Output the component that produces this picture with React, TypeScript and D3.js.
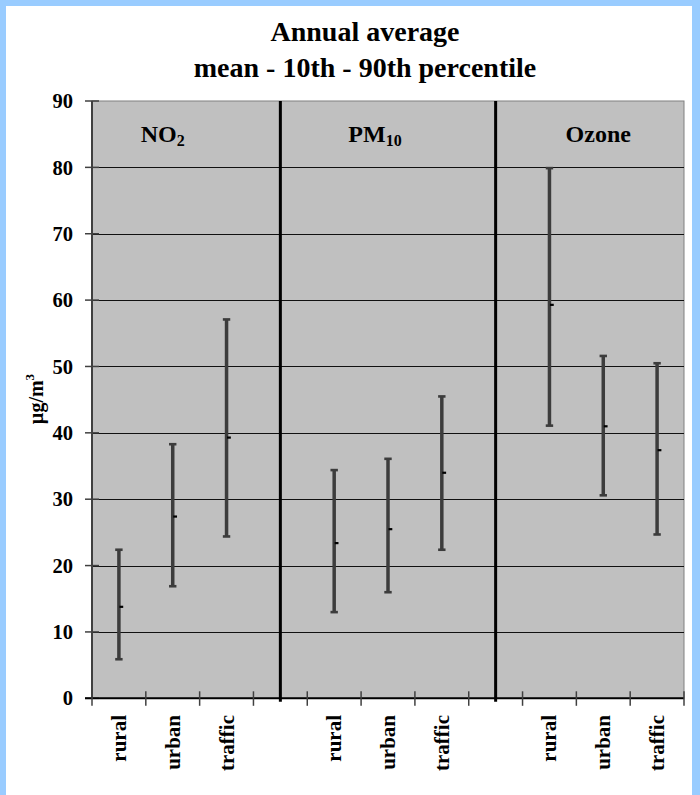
import React from 'react';
import * as d3 from 'd3';

// ---------- data ----------
const categories = ["rural", "urban", "traffic", "", "rural", "urban", "traffic", "", "rural", "urban", "traffic"];
const p10Values = [5.9, 16.9, 24.4, null, 13.0, 16.0, 22.4, null, 41.1, 30.6, 24.7];
const meanValues = [13.8, 27.4, 39.3, null, 23.4, 25.5, 34.0, null, 59.3, 41.0, 37.4];
const p90Values = [22.4, 38.3, 57.1, null, 34.4, 36.1, 45.5, null, 79.9, 51.6, 50.5];
const yTicks = [0, 10, 20, 30, 40, 50, 60, 70, 80, 90];
const panelNames = ["NO", "PM", "Ozone"];
const panelSubs = ["2", "10", ""];
const panelCenterIdx = [1, 5, 9];
const titleLines = ["Annual average", "mean - 10th - 90th percentile"];
const yAxisLabel = "µg/m";
const yAxisLabelSup = "3";

// ---------- layout ----------
const W = 700;
const H = 795;
const plotL = 92;
const plotR = 684;
const plotT = 101;
const plotB = 698.3;
const FONT = "'Liberation Serif', 'Times New Roman', Times, serif";
const panelLabelDx = [-10, -13, -5];

export default function App() {
  const idx = categories.map((_, i) => String(i));
  const x = d3.scaleBand<string>().domain(idx).range([plotL, plotR]).padding(0);
  const y = d3.scaleLinear().domain([0, 90]).range([plotB, plotT]);
  const bw = x.bandwidth();
  const cx = (i: number) => (x(String(i)) as number) + bw / 2;
  const barColor = '#3c3c3c';
  const tickEdges = d3.range(categories.length + 1).map(i => plotL + i * bw);

  return (
    <svg width={W} height={H} style={{ position: 'absolute', left: 0, top: 0, display: 'block' }}
      fontFamily={FONT} fontWeight="bold">
      <rect x={0} y={0} width={W} height={H} fill="#99CCFF" />
      <rect x={6} y={6} width={686} height={H} fill="#ffffff" />

      {/* title */}
      {titleLines.map((t, i) => (
        <text key={i} x={365} y={41 + i * 35.5} textAnchor="middle" fontSize={28}>{t}</text>
      ))}

      {/* plot area */}
      <rect x={plotL} y={plotT} width={plotR - plotL} height={plotB - plotT} fill="#C0C0C0" stroke="#808080" strokeWidth={1} />

      {/* gridlines */}
      {yTicks.filter(v => v > 0 && v < 90).map(v => (
        <line key={v} x1={plotL} x2={plotR} y1={Math.round(y(v)) + 0.5} y2={Math.round(y(v)) + 0.5} stroke="#111" strokeWidth={1} />
      ))}

      {/* y axis */}
      <line x1={plotL} x2={plotL} y1={plotT} y2={plotB} stroke="#404040" strokeWidth={2} />
      {yTicks.map(v => (
        <g key={v}>
          <line x1={plotL - 7} x2={plotL + 7} y1={y(v)} y2={y(v)} stroke="#404040" strokeWidth={1.5} />
          <text x={73} y={y(v)} dy="0.35em" textAnchor="end" fontSize={20.5}>{v}</text>
        </g>
      ))}

      {/* separators */}
      {categories.map((c, i) => c === "" ? (
        <line key={'s' + i} x1={cx(i)} x2={cx(i)} y1={plotT} y2={plotB + 3.5} stroke="#000" strokeWidth={3} />
      ) : null)}

      {/* x axis */}
      <line x1={plotL - 7} x2={plotR} y1={plotB} y2={plotB} stroke="#000" strokeWidth={2} />
      {tickEdges.map((tx, i) => (
        <line key={'t' + i} x1={tx} x2={tx} y1={plotB - 7} y2={plotB + 7.5} stroke="#404040" strokeWidth={1.5} />
      ))}
      {categories.map((c, i) => c ? (
        <text key={'c' + i} transform={`translate(${cx(i) + 7},715) rotate(-90)`} textAnchor="end" fontSize={21}>{c}</text>
      ) : null)}

      {/* error bars */}
      {categories.map((c, i) => {
        const lo = p10Values[i], hi = p90Values[i], m = meanValues[i];
        if (lo == null || hi == null || m == null) return null;
        const X = cx(i);
        return (
          <g key={'b' + i}>
            <line x1={X} x2={X} y1={y(hi)} y2={y(lo)} stroke={barColor} strokeWidth={3.5} />
            <rect x={X - 3.7} y={y(hi) - 1.2} width={7.4} height={2.6} fill={barColor} />
            <rect x={X - 3.7} y={y(lo) - 1.2} width={7.4} height={2.6} fill={barColor} />
            <rect x={X + 0.5} y={y(m) - 1} width={3.8} height={2.2} fill="#000" />
          </g>
        );
      })}

      {/* panel labels */}
      {panelNames.map((n, i) => (
        <text key={'p' + i} x={cx(panelCenterIdx[i]) + panelLabelDx[i]} y={142} textAnchor="middle" fontSize={24}>
          {n}
          {panelSubs[i] ? <tspan fontSize={16} dy={4}>{panelSubs[i]}</tspan> : null}
        </text>
      ))}

      {/* y axis label */}
      <text transform="translate(43,399) rotate(-90)" textAnchor="middle" fontSize={20}>
        {yAxisLabel}
        <tspan fontSize={13} dy={-9}>{yAxisLabelSup}</tspan>
      </text>
    </svg>
  );
}
